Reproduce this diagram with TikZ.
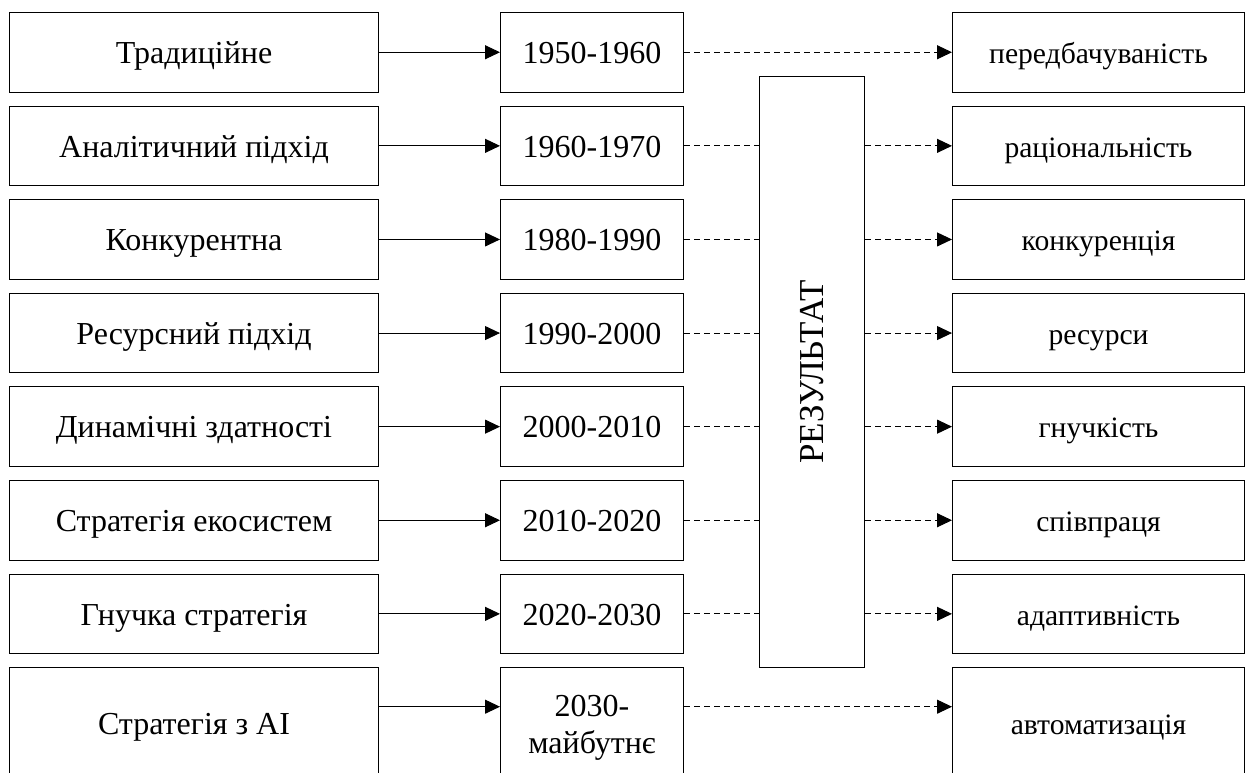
\documentclass[tikz,border=0pt]{standalone}
\usepackage{fontspec}
\setmainfont{Liberation Serif}
\usetikzlibrary{arrows.meta}
\begin{document}
\begin{tikzpicture}[x=1pt,y=-1pt,
  box/.style={draw, line width=1pt, anchor=north west, inner sep=0pt, align=center,
    font=\fontsize{32}{37}\selectfont},
  oneline/.style={text height=27pt, text depth=4.5pt},
  lbox/.style={box, oneline, minimum width=369pt, minimum height=79.5pt},
  mbox/.style={box, oneline, minimum width=183pt, minimum height=79.5pt},
  rbox/.style={box, oneline, minimum width=292pt, minimum height=79.5pt,
    font=\fontsize{29.6}{35}\selectfont},
  tall/.style={minimum height=120pt, text height=22pt, text depth=8.4pt},
  twoline/.style={minimum height=120pt, text height=, text depth=},
  solidarrow/.style={line width=1pt, -{Triangle[length=15pt,width=14pt]}},
  dashline/.style={line width=1pt, dash pattern=on 6pt off 4pt},
  dasharrow/.style={dashline, -{Triangle[length=15pt,width=14pt]}}]
\useasboundingbox (0,0) rectangle (1246,772);
\clip (0,0) rectangle (1246,772);

\node[lbox] (l1) at (9,12) {Традиційне};
\node[lbox] (l2) at (9,105.6) {Аналітичний підхід};
\node[lbox] (l3) at (9,199.2) {Конкурентна};
\node[lbox] (l4) at (9,292.8) {Ресурсний підхід};
\node[lbox] (l5) at (9,386.4) {Динамічні здатності};
\node[lbox] (l6) at (9,480) {Стратегія екосистем};
\node[lbox] (l7) at (9,573.6) {Гнучка стратегія};
\node[lbox,tall] (l8) at (9,667.2) {Стратегія з AI};

\node[mbox] (m1) at (500,12) {1950-1960};
\node[mbox] (m2) at (500,105.6) {1960-1970};
\node[mbox] (m3) at (500,199.2) {1980-1990};
\node[mbox] (m4) at (500,292.8) {1990-2000};
\node[mbox] (m5) at (500,386.4) {2000-2010};
\node[mbox] (m6) at (500,480) {2010-2020};
\node[mbox] (m7) at (500,573.6) {2020-2030};
\node[mbox,twoline] (m8) at (500,667.2) {2030-\\майбутнє};

\node[rbox] (r1) at (952,12) {передбачуваність};
\node[rbox] (r2) at (952,105.6) {раціональність};
\node[rbox] (r3) at (952,199.2) {конкуренція};
\node[rbox] (r4) at (952,292.8) {ресурси};
\node[rbox] (r5) at (952,386.4) {гнучкість};
\node[rbox] (r6) at (952,480) {співпраця};
\node[rbox] (r7) at (952,573.6) {адаптивність};
\node[rbox,tall] (r8) at (952,667.2) {автоматизація};

\node[box, minimum width=105pt, minimum height=591pt] (res) at (759,76) {};
\node[font=\fontsize{35}{40}\selectfont, rotate=90] (restext) at (res.center) {РЕЗУЛЬТАТ};

\foreach \k in {1,...,7} {
  \draw[solidarrow] (l\k.east) -- (m\k.west);
}
\draw[solidarrow] ([yshift=-39.5pt]l8.north east) -- ([yshift=-39.5pt]m8.north west);

\draw[dasharrow] (m1.east) -- (r1.west);
\foreach \k in {2,...,7} {
  \draw[dashline] (m\k.east) -- (m\k.east -| res.west);
  \draw[dasharrow] (r\k.west -| res.east) -- (r\k.west);
}
\draw[dasharrow] ([yshift=-39.5pt]m8.north east) -- ([yshift=-39.5pt]r8.north west);
\end{tikzpicture}
\end{document}
